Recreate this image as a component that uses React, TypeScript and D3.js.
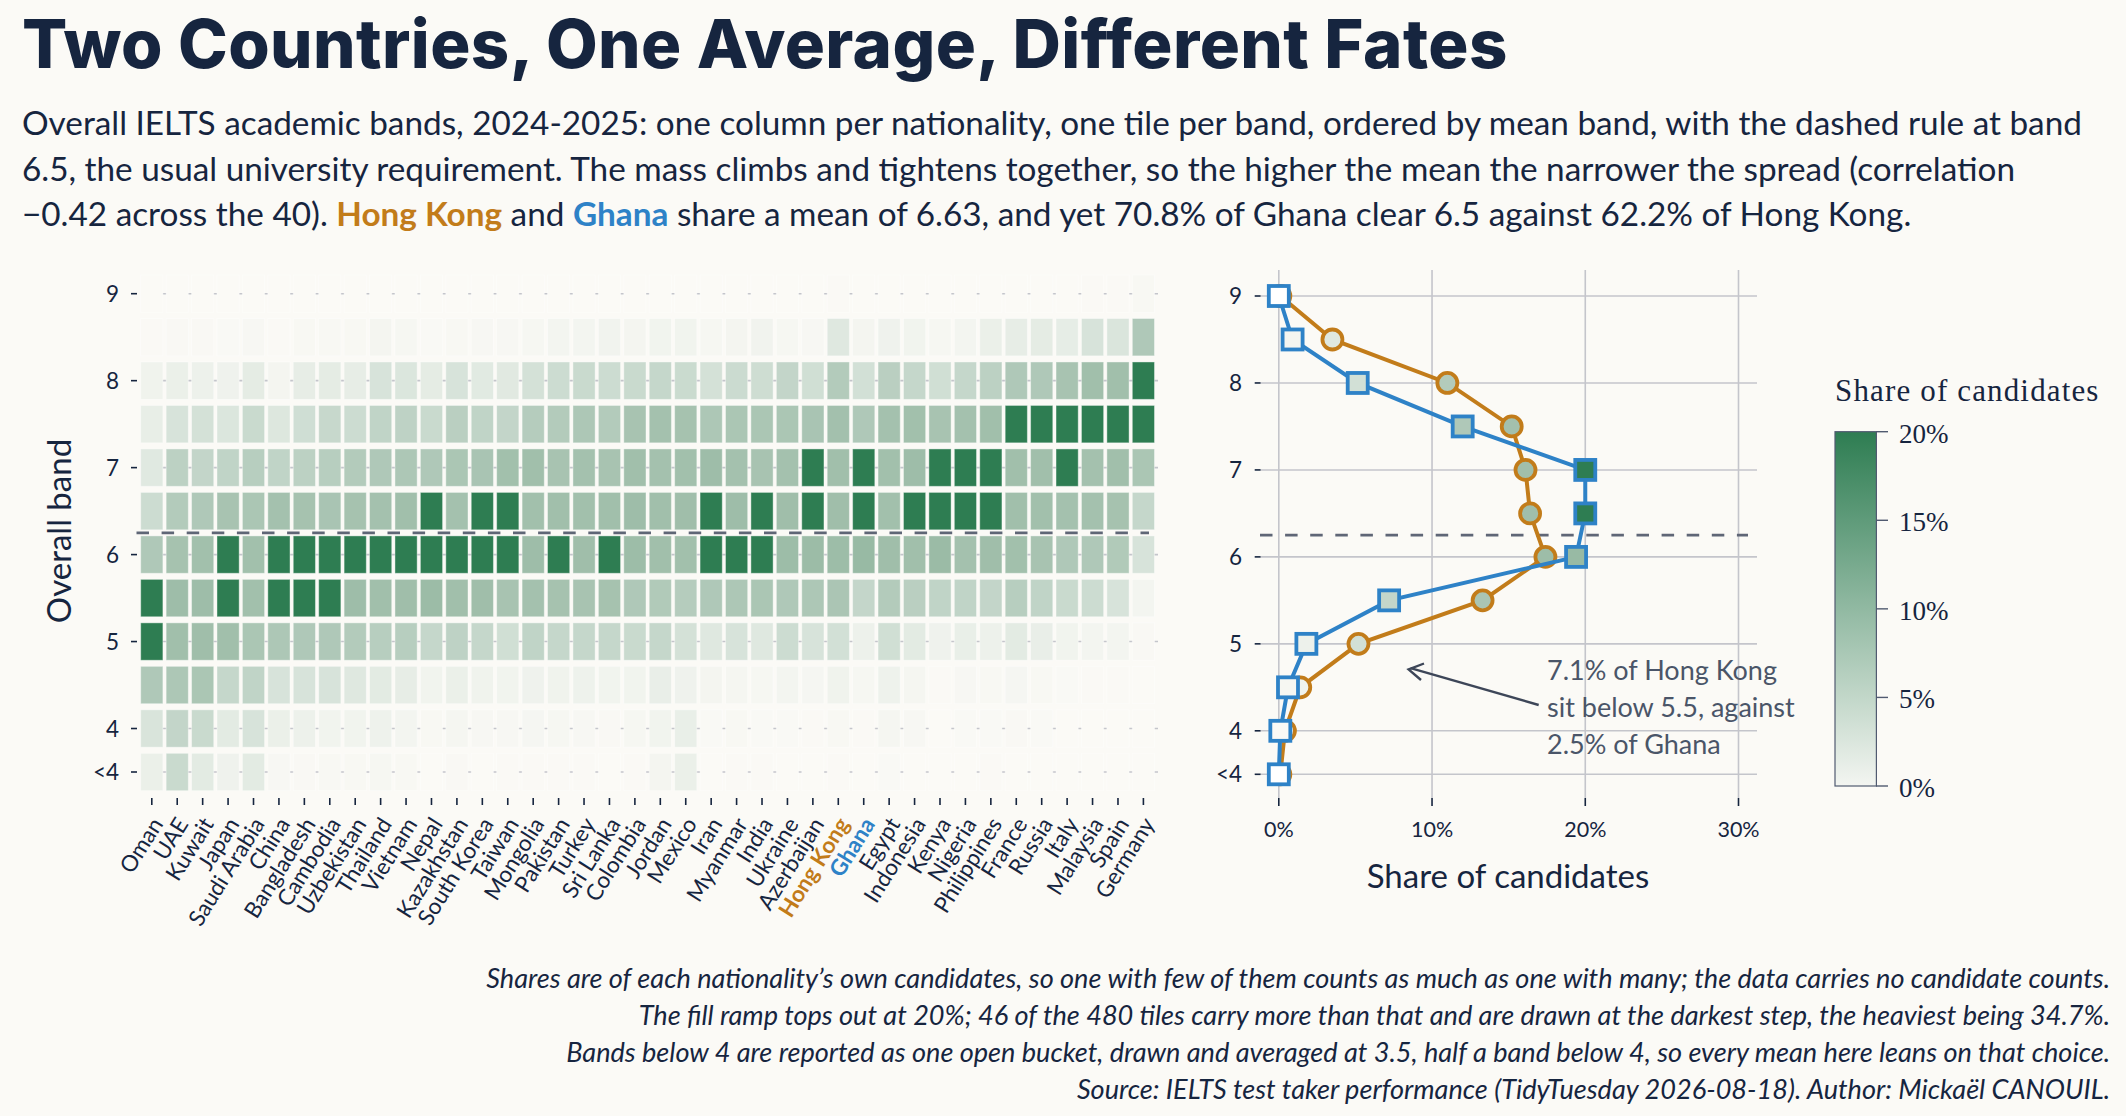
import * as d3 from 'd3';

// nationalities ordered by mean band
const countries = ['Oman','UAE','Kuwait','Japan','Saudi Arabia','China','Bangladesh','Cambodia','Uzbekistan','Thailand','Vietnam','Nepal','Kazakhstan','South Korea','Taiwan','Mongolia','Pakistan','Turkey','Sri Lanka','Colombia','Jordan','Mexico','Iran','Myanmar','India','Ukraine','Azerbaijan','Hong Kong','Ghana','Egypt','Indonesia','Kenya','Nigeria','Philippines','France','Russia','Italy','Malaysia','Spain','Germany'];

const bands = [9, 8.5, 8, 7.5, 7, 6.5, 6, 5.5, 5, 4.5, 4, 3.5];

// share of candidates per band, one list per band
const band9 = [0,0,0,0,0,0,0,0,0,0,0,0,0,0,0,0,0,0,0,0,0,0,0,0,0,0,0,0.1,0,0,0,0,0,0,0,0,0,0.1,0.1,0.4];
const band85 = [0.1,0.3,0.3,0.2,0.5,0.1,0.4,0.4,0.4,0.9,0.6,0.2,0.4,0.5,0.5,0.6,1,1,1.3,0.9,1.2,1.2,0.6,0.9,1.3,0.6,0.5,3.5,0.9,1.5,1.2,0.6,1,2,2.5,2.8,2.6,4.5,4.2,12];
const band8 = [1.4,2,1.8,1.5,2.8,0.9,2.5,2.8,2.5,4.5,4,2.8,4.5,3.2,3.3,5,6,6.5,6,6.5,7,6.3,5,6.2,5.8,7.5,5.5,11,5.2,9.5,7,5.5,7,9,12,12,14,16,16,22];
const band75 = [2.4,4.6,5,4,6.5,3.8,5.6,6.8,6,8,8.5,6.5,9.5,8,7.5,10.5,11,12.5,11,14,15,14.5,12.5,13,13,13,13.5,15.2,12,15,15.5,14,15,16,22,23,24,23,25,24];
const band7 = [3.4,9,7.5,8,10,8,9,10,11,12,12.5,12,13,13.5,15.5,16,14,15,14,16,15,15.5,17,15,14,15,24,16,24,15.5,17,24,25,24,16,16,24,15,16,13];
const band65 = [6,11,12,14,13,15,14.5,13.5,14.5,15,16,24,15,24,24,15.5,16,15.5,16,17,16,16.5,24,17,24,16.5,24,16.4,24,15.5,24,24,25,24,16,15.5,15,15,14.5,7];
const band6 = [12,14.5,15.5,24,15.5,26,26,25,25,24,24,24,24,24,24,17,24,16.5,24,17.5,16,15.5,24,24,24,17.5,18,17.4,19.4,16.5,16,18.5,15,16.5,15.5,14,12,12,11.5,4.5];
const band55 = [34.7,17,17,24,15.5,26,25,25,17,16,16.5,18,16,16.5,14,15,14.5,14,14.5,12,11.5,10.5,12,12.5,13,12,12.5,13.2,7.2,11,9.5,8,8,7.5,10,8,6.5,6,4.5,1];
const band5 = [24,16,16.5,16,13,12.5,12,12,11,10,10,7,8.5,7,5.5,8,7,7,7,6.5,7,5,3.5,4.5,3.5,6,4.5,5.2,1.8,5.5,3,1.5,2.2,1.7,3,2.3,1.2,1,1,0.3];
const band45 = [12,12.5,13,7,8,4.5,4.5,4.5,3.5,3,2.5,1.2,2,1.4,1.2,1.5,1.4,1.6,1.2,1.2,2.3,1.5,0.9,0.8,0.6,1,0.7,1.4,0.6,1.6,0.8,0.1,0.5,0.4,0.7,0.4,0.2,0.1,0.1,0];
const band4 = [4.3,7.5,6.5,3,4.5,2,1.8,1.2,1.2,1.6,1,0.4,0.8,0.5,0.5,0.7,0.6,0.5,0.3,0.6,1.2,2.2,0.2,0.4,0.2,0.2,0.1,0.4,0.1,0.8,0.5,0,0.2,0.2,0.3,0.2,0,0,0,0];
const bandBelow4 = [2,6.5,3,1.5,3,0.5,0.3,0.4,0.4,0.6,0.4,0,0.3,0,0.1,0.1,0.1,0.1,0,0.1,0.9,2,0,0.1,0.1,0,0,0.1,0,0.2,0,0,0,0.1,0,0,0,0,0,0];
const bandRows = [band9, band85, band8, band75, band7, band65, band6, band55, band5, band45, band4, bandBelow4];

// the two profiles, same band order
const hongKong = [0.1,3.5,11,15.2,16.1,16.4,17.4,13.3,5.2,1.4,0.4,0.1];
const ghana = [0,0.9,5.15,12,20,20,19.4,7.2,1.8,0.6,0.1,0];

const yTicks = [9, 8, 7, 6, 5, 4, 3.5];
const shareTicks = [0, 10, 20, 30];
const legendTicks = [0, 5, 10, 15, 20];

const footnotes = [
  'Shares are of each nationality’s own candidates, so one with few of them counts as much as one with many; the data carries no candidate counts.',
  'The fill ramp tops out at 20%; 46 of the 480 tiles carry more than that and are drawn at the darkest step, the heaviest being 34.7%.',
  'Bands below 4 are reported as one open bucket, drawn and averaged at 3.5, half a band below 4, so every mean here leans on that choice.',
  'Source: IELTS test taker performance (TidyTuesday 2026-08-18). Author: Mickaël CANOUIL.',
];

const BG = '#fbfaf6';
const INK = '#16253f';
const ORANGE = '#c27c1a';
const BLUE = '#2e82c7';
const DARK = '#2e7d52';
const GRID = '#c4c5cb';
const RULE = '#5f6676';
const SANS = 'Lato, sans-serif';
const SERIF = '"Liberation Serif", serif';

const x = d3.scalePoint<string>().domain(countries).range([151.8, 1143.4]);
const y = d3.scaleLinear().domain([3.5, 9]).range([772, 293.7]);
// the profile panel sits a touch lower than the heatmap
const yProfile = d3.scaleLinear().domain([3.5, 9]).range([774.3, 296]);
const xShare = d3.scaleLinear().domain([0, 30]).range([1278.8, 1738.5]);
const yLegend = d3.scaleLinear().domain([0, 20]).range([786, 431.7]);

// tiles stay pale up to 20, anything above goes to the dark step
const ramp = d3.scaleLinear<string>()
  .domain([0, 3.5, 5.2, 7.2, 11, 15.2, 19.9])
  .range([BG, '#dfe8e0', '#d2e0d6', '#c4d6ca', '#b3cbbb', '#a3c0ad', '#97b9a3'])
  .clamp(true);
const tileFill = (v: number) => (v >= 20 ? DARK : ramp(v));
const legendRamp = d3.scaleLinear<string>().domain([0, 20]).range(['#f3f5f1', DARK]);

const line = d3.line<number>().x((d) => xShare(d)).y((_, i) => yProfile(bands[i]));

const tileW = 22.2;
const tileH = 37.4;

const App = () => {
  return (
    <svg width={2126} height={1116} style={{ position: 'absolute', left: 0, top: 0, display: 'block' }} fontFamily={SANS}>
      <rect width={2126} height={1116} fill={BG} />

      <text x={22} y={68} fontSize={67} fontWeight={800} letterSpacing={0.41} fill={INK} fontFamily="Inter, sans-serif">
        Two Countries, One Average, Different Fates
      </text>
      <g fontSize={33.3} fill={INK}>
        <text x={22} y={135}>Overall IELTS academic bands, 2024-2025: one column per nationality, one tile per band, ordered by mean band, with the dashed rule at band</text>
        <text x={22} y={180.5}>6.5, the usual university requirement. The mass climbs and tightens together, so the higher the mean the narrower the spread (correlation</text>
        <text x={22} y={226}>
          −0.42 across the 40). <tspan fill={ORANGE} fontWeight={700}>Hong Kong</tspan> and <tspan fill={BLUE} fontWeight={700}>Ghana</tspan> share a mean of 6.63, and yet 70.8% of Ghana clear 6.5 against 62.2% of Hong Kong.
        </text>
      </g>

      {/* heatmap */}
      {yTicks.map((t) => (
        <g key={t}>
          <line x1={141} x2={1158} y1={y(t)} y2={y(t)} stroke={GRID} strokeWidth={1.6} />
          <line x1={131} x2={137} y1={y(t)} y2={y(t)} stroke={INK} strokeWidth={1.6} />
          <text x={119} y={y(t) + 8} textAnchor="end" fontSize={22.5} fill={INK}>{t === 3.5 ? '<4' : t}</text>
        </g>
      ))}
      {bandRows.map((row, r) =>
        row.map((v, c) => (
          <rect
            key={r + '-' + c}
            x={x(countries[c])! - tileW / 2}
            y={y(bands[r]) - tileH / 2}
            width={tileW}
            height={tileH}
            fill={tileFill(v)}
            stroke="#fff"
            strokeOpacity={0.4}
            strokeWidth={1}
          />
        ))
      )}
      <line x1={136.5} x2={1149} y1={y(6.25)} y2={y(6.25)} stroke={RULE} strokeWidth={2.6} strokeDasharray="12.5 12.6" />
      {countries.map((c) => {
        const cx = x(c)!;
        const special = c === 'Hong Kong' ? ORANGE : c === 'Ghana' ? BLUE : null;
        return (
          <g key={c}>
            <line x1={cx} x2={cx} y1={798} y2={805} stroke={INK} strokeWidth={1.6} />
            <text
              transform={`translate(${cx + 12},824) rotate(-58)`}
              textAnchor="end"
              fontSize={22.5}
              fontWeight={special ? 700 : 400}
              fill={special || INK}
            >
              {c}
            </text>
          </g>
        );
      })}
      <text transform="translate(71,531) rotate(-90)" textAnchor="middle" fontSize={33} fill={INK}>Overall band</text>

      {/* profile panel */}
      {shareTicks.map((t) => (
        <g key={t}>
          <line x1={xShare(t)} x2={xShare(t)} y1={270} y2={798} stroke={GRID} strokeWidth={1.6} />
          <line x1={xShare(t)} x2={xShare(t)} y1={798} y2={806} stroke={INK} strokeWidth={1.6} />
          <text x={xShare(t)} y={837} textAnchor="middle" fontSize={21.5} fill={INK}>{t}%</text>
        </g>
      ))}
      {yTicks.map((t) => (
        <g key={t}>
          <line x1={1260} x2={1757} y1={yProfile(t)} y2={yProfile(t)} stroke={GRID} strokeWidth={1.6} />
          <line x1={1254.7} x2={1260.5} y1={yProfile(t)} y2={yProfile(t)} stroke={INK} strokeWidth={1.6} />
          <text x={1242} y={yProfile(t) + 8} textAnchor="end" fontSize={22.5} fill={INK}>{t === 3.5 ? '<4' : t}</text>
        </g>
      ))}
      <line x1={1260} x2={1748} y1={yProfile(6.25)} y2={yProfile(6.25)} stroke={RULE} strokeWidth={2.6} strokeDasharray="12.5 12.6" />

      <path d={line(hongKong)!} fill="none" stroke={ORANGE} strokeWidth={4} />
      {hongKong.map((v, i) => (
        <circle key={i} cx={xShare(v)} cy={yProfile(bands[i])} r={10} fill={tileFill(v)} stroke={ORANGE} strokeWidth={3.8} />
      ))}
      <path d={line(ghana)!} fill="none" stroke={BLUE} strokeWidth={4} />
      {ghana.map((v, i) => (
        <rect key={i} x={xShare(v) - 10} y={yProfile(bands[i]) - 10} width={20} height={20} fill={v === 0 ? '#fff' : tileFill(v)} stroke={BLUE} strokeWidth={3.8} />
      ))}

      <g stroke="#3d4658" strokeWidth={2.4} fill="none">
        <line x1={1538.7} y1={705} x2={xShare(8.6)} y2={yProfile(4.72)} />
        <path d="M1424,663.5 L1408.6,669.3 L1421,680" />
      </g>
      <g fontSize={27} fill="#4a5568">
        <text x={1547} y={680}>7.1% of Hong Kong</text>
        <text x={1547} y={717}>sit below 5.5, against</text>
        <text x={1547} y={754}>2.5% of Ghana</text>
      </g>
      <text x={1508} y={888} textAnchor="middle" fontSize={33} fill={INK}>Share of candidates</text>

      {/* colour legend */}
      <text x={1835} y={400.7} fontFamily={SERIF} fontSize={31} letterSpacing={1.15} fill={INK}>Share of candidates</text>
      <defs>
        <linearGradient id="shareRamp" x1="0" x2="0" y1="1" y2="0">
          {legendTicks.map((t) => (
            <stop key={t} offset={t / 20} stopColor={legendRamp(t)} />
          ))}
        </linearGradient>
      </defs>
      <rect x={1835} y={yLegend(20)} width={41.4} height={yLegend(0) - yLegend(20)} fill="url(#shareRamp)" stroke="#505a70" strokeWidth={1.2} />
      {legendTicks.map((t) => (
        <g key={t}>
          <line x1={1876} x2={1888} y1={yLegend(t)} y2={yLegend(t)} stroke="#505a70" strokeWidth={1.4} />
          <text x={1899} y={yLegend(t) + 11} fontFamily={SERIF} fontSize={27} fill={INK}>{t}%</text>
        </g>
      ))}

      <g fontSize={27.1} fontStyle="italic" fill={INK} textAnchor="end">
        {footnotes.map((f, i) => (
          <text key={i} x={2110} y={988 + i * 37}>{f}</text>
        ))}
      </g>
    </svg>
  );
};

export default App;
